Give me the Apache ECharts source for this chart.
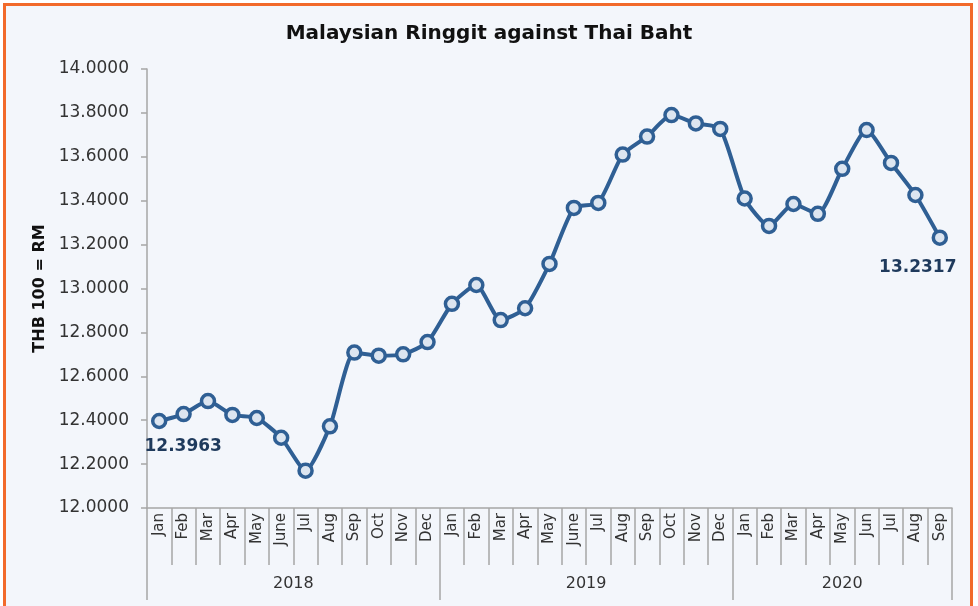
<!DOCTYPE html>
<html>
<head>
<meta charset="utf-8">
<script src="https://cdn.jsdelivr.net/npm/echarts@6/dist/echarts.min.js"></script>
<style>
  html, body { margin: 0; padding: 0; background: #ffffff; }
  #frame {
    position: absolute; left: 3px; top: 3px; width: 964px; height: 610px;
    border: 3px solid #f26a2b; background: #f3f6fb;
  }
  #chart { position: absolute; left: 0; top: 0; width: 978px; height: 606px; }
</style>
</head>
<body>
<div id="frame"></div>
<div id="chart"></div>
<script>
// months, 2018 Jan .. 2020 Sep
const months = [
  'Jan', 'Feb', 'Mar', 'Apr', 'May', 'June', 'Jul', 'Aug', 'Sep', 'Oct', 'Nov', 'Dec',
  'Jan', 'Feb', 'Mar', 'Apr', 'May', 'June', 'Jul', 'Aug', 'Sep', 'Oct', 'Nov', 'Dec',
  'Jan', 'Feb', 'Mar', 'Apr', 'May', 'Jun', 'Jul', 'Aug', 'Sep'
]
const rates = [
  12.3963, 12.428, 12.487, 12.424, 12.410, 12.320, 12.170, 12.372, 12.708, 12.694, 12.700, 12.756,
  12.930, 13.016, 12.856, 12.910, 13.112, 13.367, 13.390, 13.610, 13.692, 13.790, 13.752, 13.727,
  13.410, 13.285, 13.385, 13.340, 13.545, 13.722, 13.572, 13.426, 13.2317
]
const years = ['2018', '2019', '2020']
const monthBounds = Array.from({ length: months.length + 1 }, (_, i) => i)
const yearBounds = [0, 12, 24, 33]
const yearMids = [6, 18, 28.5]

const fontFamily = 'DejaVu Sans'
const lineColor = '#2f5f94'
const axisGray = '#a6a6a6'

const chart = echarts.init(document.getElementById('chart'))

const seriesData = rates.map((v, i) => {
  if (i === 0) {
    return { value: v, label: { show: true, position: 'bottom', distance: 9, offset: [24, 0] } }
  }
  if (i === rates.length - 1) {
    return { value: v, label: { show: true, position: 'bottom', distance: 13, offset: [-22, 0] } }
  }
  return v
})

const option = {
  backgroundColor: 'transparent',
  animation: false,
  title: {
    text: 'Malaysian Ringgit against Thai Baht',
    left: 'center',
    top: 19,
    textStyle: { fontFamily, fontSize: 20, fontWeight: 'bold', color: '#111' }
  },
  grid: { left: 147, right: 26, top: 69, bottom: 98 },
  xAxis: [
    {
      type: 'category',
      data: months,
      boundaryGap: true,
      axisLine: { lineStyle: { color: axisGray, width: 1.5 } },
      axisTick: { show: false },
      axisLabel: {
        interval: 0, rotate: 90, margin: 5,
        fontFamily, fontSize: 15, color: '#333'
      },
      splitLine: { show: false }
    },
    {
      // month separators
      type: 'value',
      min: 0,
      max: 33,
      position: 'bottom',
      axisLine: { show: false },
      axisTick: {
        show: true, length: 57, customValues: monthBounds,
        lineStyle: { color: axisGray, width: 1.5 }
      },
      axisLabel: { show: false },
      splitLine: { show: false }
    },
    {
      // year row
      type: 'value',
      min: 0,
      max: 33,
      position: 'bottom',
      offset: 57,
      axisLine: { show: false },
      axisTick: {
        show: true, length: 35, customValues: yearBounds,
        lineStyle: { color: axisGray, width: 1.5 }
      },
      axisLabel: {
        customValues: yearMids, margin: 11,
        fontFamily, fontSize: 16, color: '#333',
        formatter: v => years[yearMids.indexOf(v)]
      },
      splitLine: { show: false }
    }
  ],
  yAxis: {
    type: 'value',
    min: 12,
    max: 14,
    interval: 0.2,
    name: 'THB 100 = RM',
    nameLocation: 'middle',
    nameGap: 98,
    nameTextStyle: { fontFamily, fontSize: 16, fontWeight: 'bold', color: '#111' },
    axisLine: { show: true, lineStyle: { color: axisGray, width: 1.5 } },
    axisTick: { show: true, length: 6, lineStyle: { color: axisGray, width: 1.5 } },
    axisLabel: {
      margin: 18, fontFamily, fontSize: 17, color: '#333',
      formatter: v => v.toFixed(4)
    },
    splitLine: { show: false }
  },
  series: [
    {
      type: 'line',
      xAxisIndex: 0,
      data: seriesData,
      smooth: 0.2,
      symbol: 'circle',
      symbolSize: 13,
      lineStyle: { color: lineColor, width: 4 },
      itemStyle: { color: '#dce5f0', borderColor: lineColor, borderWidth: 3.5 },
      label: {
        show: false,
        fontFamily, fontSize: 17, fontWeight: 'bold', color: '#1f3a5c',
        formatter: p => p.value.toFixed(4)
      }
    }
  ]
}

chart.setOption(option)
</script>
</body>
</html>
